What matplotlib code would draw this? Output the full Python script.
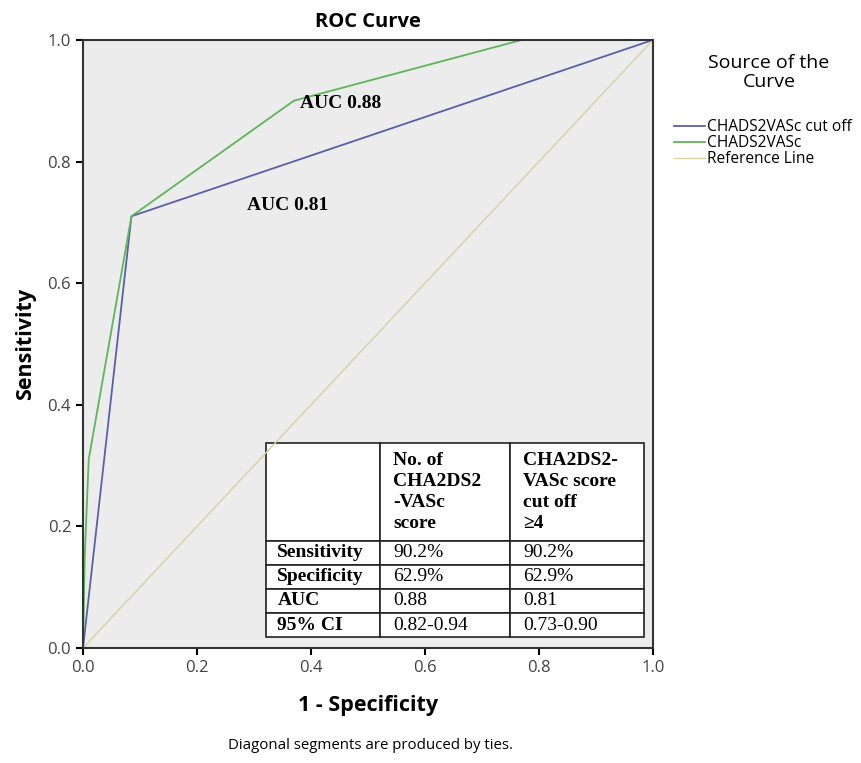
import matplotlib.pyplot as plt
import numpy as np

plt.rcParams["font.family"] = ["Open Sans", "DejaVu Sans"]

# ROC points
fpr_cut = [0.0, 0.085, 1.0]
tpr_cut = [0.0, 0.71, 1.0]
fpr_score = [0.0, 0.003, 0.01, 0.085, 0.37, 0.77, 1.0]
tpr_score = [0.0, 0.15, 0.31, 0.71, 0.90, 1.0, 1.0]
ref_line = [0.0, 1.0]

auc_labels = ["AUC 0.88", "AUC 0.81"]
auc_pos = [(0.38, 0.895), (0.288, 0.727)]

row_labels = ["", "Sensitivity", "Specificity", "AUC", "95% CI"]
col_score = ["No. of\nCHA2DS2\n-VASc\nscore", "90.2%", "62.9%", "0.88", "0.82-0.94"]
col_cut = ["CHA2DS2-\nVASc score\ncut off\n\u22654", "90.2%", "62.9%", "0.81", "0.73-0.90"]

fig = plt.figure(figsize=(8.61, 7.63), dpi=100)
ax = fig.add_axes([0.0964, 0.1507, 0.662, 0.797])
ax.set_facecolor("#ececec")

ax.plot(fpr_cut, tpr_cut, color="#5a5fa8", lw=1.3, label="CHADS2VASc cut off")
ax.plot(fpr_score, tpr_score, color="#5fb55a", lw=1.3, label="CHADS2VASc")
ax.plot(ref_line, ref_line, color="#d6d3a0", lw=1.0, label="Reference Line")

for txt, (x, y) in zip(auc_labels, auc_pos):
    ax.text(x, y, txt, family="Liberation Serif", fontweight="bold", fontsize=14,
            va="center", ha="left")

ax.set_xlim(0, 1)
ax.set_ylim(0, 1)
ax.set_xticks(np.arange(0, 1.01, 0.2))
ax.set_yticks(np.arange(0, 1.01, 0.2))
ax.xaxis.set_major_formatter(plt.FormatStrFormatter("%.1f"))
ax.yaxis.set_major_formatter(plt.FormatStrFormatter("%.1f"))
ax.tick_params(direction="out", length=5, width=1.5, labelsize=12, labelcolor="#444444")
for s in ax.spines.values():
    s.set_linewidth(1.5)
    s.set_color("#333333")

ax.set_title("ROC Curve", fontweight="bold", fontsize=14.5, pad=9)
ax.set_xlabel("1 - Specificity", fontweight="bold", fontsize=15.5, labelpad=14)
ax.set_ylabel("Sensitivity", fontweight="bold", fontsize=15.5, labelpad=8)

# summary table
cells = [[r, a, b] for r, a, b in zip(row_labels, col_score, col_cut)]
tb = ax.table(cellText=cells, cellLoc="left", colWidths=[114, 130, 134],
              bbox=[0.321, 0.018, 0.663, 0.319])
tb.auto_set_font_size(False)
for (r, c), cell in tb.get_celld().items():
    cell.set_facecolor("white")
    cell.set_edgecolor("#222222")
    cell.set_linewidth(1.2)
    cell.PAD = 0.1
    cell.set_height(97 if r == 0 else 24)
    t = cell.get_text()
    t.set_fontfamily("Liberation Serif")
    t.set_fontsize(14)
    t.set_linespacing(1.3)
    if r == 0 or c == 0:
        t.set_fontweight("bold")

fig.text(0.893, 0.905, "Source of the\nCurve", ha="center", va="center",
         fontsize=14, linespacing=1.1)
fig.legend(loc="upper left", bbox_to_anchor=(0.776, 0.852), frameon=False,
           fontsize=11.2, handlelength=2.0, handletextpad=0.1, labelspacing=0.0,
           borderaxespad=0)

fig.text(0.43, 0.018, "Diagonal segments are produced by ties.", ha="center", fontsize=10.8)

fig.savefig("out.png", dpi=100)
